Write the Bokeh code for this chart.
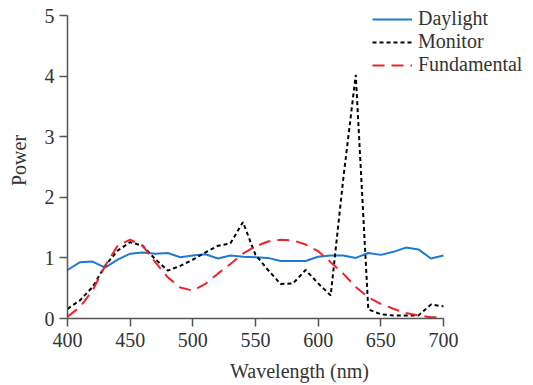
from bokeh.plotting import figure
from bokeh.models import Range1d, Legend, LegendItem, FixedTicker
from bokeh.embed import file_html
from bokeh.resources import INLINE

wavelength = [400, 410, 420, 430, 440, 450, 460, 470, 480, 490, 500,
              510, 520, 530, 540, 550, 560, 570, 580, 590, 600,
              610, 620, 630, 640, 650, 660, 670, 680, 690, 700]
daylight = [0.80, 0.93, 0.94, 0.84, 0.97, 1.07, 1.09, 1.07, 1.08, 1.01, 1.04,
            1.06, 0.99, 1.04, 1.02, 1.01, 1.00, 0.95, 0.95, 0.95, 1.02,
            1.04, 1.04, 1.00, 1.08, 1.05, 1.10, 1.17, 1.14, 0.99, 1.04]
monitor = [0.16, 0.30, 0.52, 0.87, 1.12, 1.26, 1.20, 0.98, 0.79, 0.87, 0.97,
           1.09, 1.20, 1.24, 1.59, 1.05, 0.80, 0.57, 0.58, 0.80, 0.58,
           0.38, 2.30, 4.02, 0.15, 0.07, 0.05, 0.05, 0.05, 0.23, 0.20]
fundamental = [0.03, 0.19, 0.46, 0.87, 1.20, 1.30, 1.20, 0.93, 0.68, 0.51, 0.46,
               0.57, 0.74, 0.90, 1.07, 1.19, 1.27, 1.30, 1.29, 1.22, 1.11,
               0.93, 0.74, 0.52, 0.35, 0.24, 0.16, 0.09, 0.05, 0.02, 0.02]
x_ticks = [400, 450, 500, 550, 600, 650, 700]
y_ticks = [0, 1, 2, 3, 4, 5]

FONT = "Liberation Serif"
W, H = 533, 385
LEFT, RIGHT, TOP, BOTTOM = 67, 2, 2, 67
frame_w = W - LEFT - RIGHT
frame_h = H - TOP - BOTTOM
# axes span 400-700 over 376 px and 0-5 over 303 px; the frame is larger so the legend is not clipped
x_end = 400 + 300 * frame_w / 376
y_end = 5 * frame_h / 303

p = figure(width=W, height=H, output_backend="svg", toolbar_location=None,
           x_range=Range1d(400, x_end), y_range=Range1d(0, y_end),
           min_border_left=LEFT, min_border_right=RIGHT,
           min_border_top=TOP, min_border_bottom=BOTTOM)
p.outline_line_color = None
p.grid.visible = False
p.background_fill_color = "white"

blue = "#1c7ad0"
red = "#e8252b"
r1 = p.line(wavelength, daylight, line_color=blue, line_width=2)
r2 = p.line(wavelength, monitor, line_color="black", line_width=2, line_dash="4 3")
r3 = p.line(wavelength, fundamental, line_color=red, line_width=2, line_dash="12 7")

for ax in (p.xaxis[0], p.yaxis[0]):
    ax.axis_line_color = "#555555"
    ax.axis_line_width = 1.5
    ax.major_tick_line_color = "#555555"
    ax.major_tick_line_width = 1.5
    ax.minor_tick_line_color = None
    ax.major_tick_in = 0
    ax.major_tick_out = 8
    ax.major_label_text_font = FONT
    ax.major_label_text_font_size = "20px"
    ax.major_label_text_color = "#333333"
    ax.axis_label_text_font = FONT
    ax.axis_label_text_font_size = "20px"
    ax.axis_label_text_font_style = "normal"
    ax.axis_label_text_color = "#333333"

p.xaxis[0].bounds = (400, 700)
p.yaxis[0].bounds = (0, 5)
p.xaxis[0].ticker = FixedTicker(ticks=x_ticks)
p.yaxis[0].ticker = FixedTicker(ticks=y_ticks)
p.xaxis[0].axis_label = "Wavelength (nm)"
p.yaxis[0].axis_label = "Power"
p.xaxis[0].major_label_standoff = 6
p.xaxis[0].axis_label_standoff = 10
p.yaxis[0].major_label_standoff = 5
p.yaxis[0].axis_label_standoff = 12

legend = Legend(items=[LegendItem(label="Daylight", renderers=[r1]),
                       LegendItem(label="Monitor", renderers=[r2]),
                       LegendItem(label="Fundamental", renderers=[r3])],
                location=(305, 242), orientation="vertical")
legend.label_text_font = FONT
legend.label_text_font_size = "20px"
legend.label_text_color = "#333333"
legend.glyph_width = 40
legend.glyph_height = 20
legend.label_height = 20
legend.spacing = 0
legend.padding = 0
legend.margin = 0
legend.label_standoff = 6
legend.border_line_color = None
legend.background_fill_alpha = 0
p.add_layout(legend)

open("out.html", "w").write(file_html(p, INLINE))
